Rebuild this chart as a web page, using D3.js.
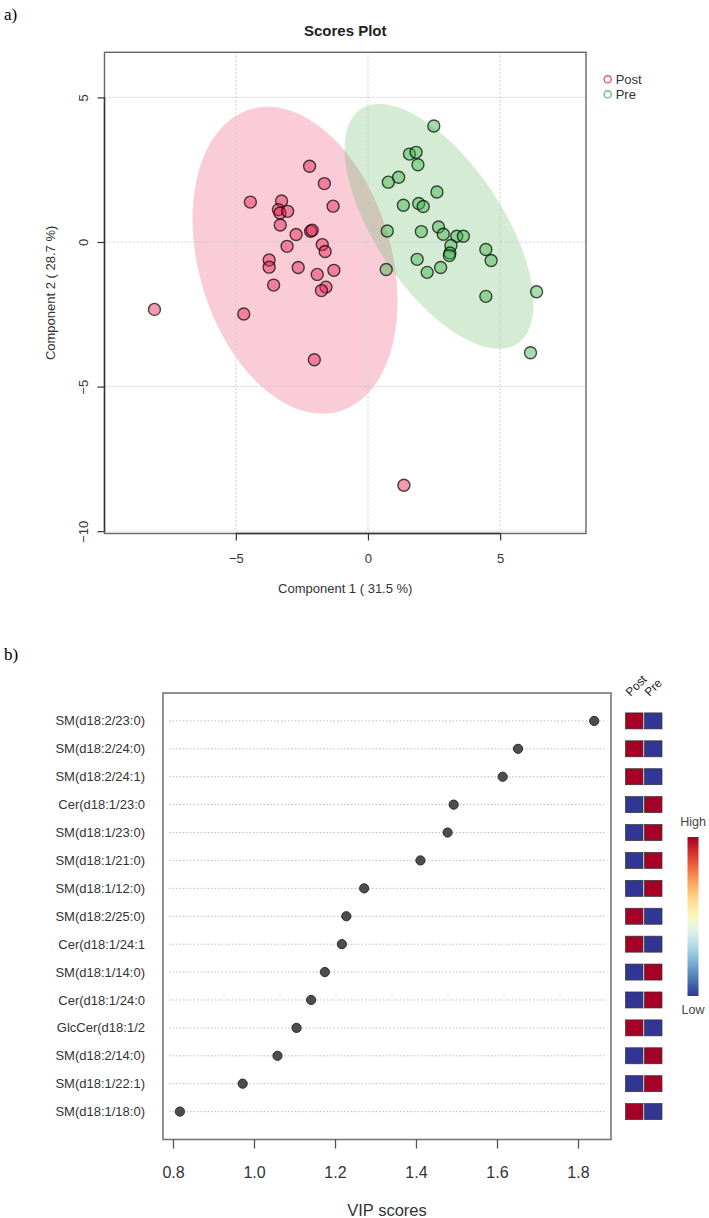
<!DOCTYPE html>
<html>
<head>
<meta charset="utf-8">
<script src="https://cdnjs.cloudflare.com/ajax/libs/d3/7.8.5/d3.min.js"></script>
<style>
  body { margin: 0; background: #fff; }
  svg text { font-family: "Liberation Sans", Arial, sans-serif; }
</style>
</head>
<body>
<svg id="chart" width="709" height="1218"></svg>
<script>
// ---- a) PLS-DA scores, [component 1, component 2]
const postScores = [
  [-2.21, 2.62], [-1.65, 2.02], [-4.45, 1.38], [-3.27, 1.42], [-3.39, 1.12],
  [-3.33, 1.00], [-3.04, 1.06], [-1.32, 1.24], [-3.32, 0.59], [-2.72, 0.26],
  [-2.17, 0.37], [-2.11, 0.41], [-3.06, -0.15], [-1.73, -0.09], [-1.62, -0.33],
  [-3.74, -0.62], [-3.74, -0.87], [-2.64, -0.88], [-1.29, -0.98], [-1.92, -1.12],
  [-3.57, -1.49], [-1.59, -1.56], [-1.76, -1.68], [-8.08, -2.33], [-4.70, -2.49],
  [-2.03, -4.07], [1.36, -8.41]
];
const preScores = [
  [2.49, 4.01], [1.57, 3.04], [1.82, 3.10], [1.89, 2.67], [0.77, 2.07],
  [1.16, 2.24], [2.61, 1.73], [1.34, 1.27], [1.92, 1.33], [2.09, 1.23],
  [0.73, 0.38], [2.02, 0.36], [2.67, 0.52], [2.85, 0.27], [3.36, 0.20],
  [3.61, 0.20], [3.14, -0.12], [3.10, -0.38], [3.08, -0.47], [4.46, -0.26],
  [4.66, -0.64], [1.86, -0.60], [2.75, -0.88], [2.24, -1.05], [0.69, -0.95],
  [4.46, -1.88], [6.38, -1.72], [6.15, -3.83]
];
// 95% regions: centre, then the two half-axis vectors (data units)
const postEllipse = [[-2.76, -0.63], [1.69, -5.22], [3.49, 0.95]];
const preEllipse = [[2.69, 0.54], [2.97, -4.05], [1.99, 1.23]];
const groups = ["Post", "Pre"];
const scoreXTicks = [-5, 0, 5];
const scoreYTicks = [5, 0, -5, -10];

// ---- b) VIP scores
const features = ["SM(d18:2/23:0)", "SM(d18:2/24:0)", "SM(d18:2/24:1)", "Cer(d18:1/23:0",
  "SM(d18:1/23:0)", "SM(d18:1/21:0)", "SM(d18:1/12:0)", "SM(d18:2/25:0)", "Cer(d18:1/24:1",
  "SM(d18:1/14:0)", "Cer(d18:1/24:0", "GlcCer(d18:1/2", "SM(d18:2/14:0)", "SM(d18:1/22:1)",
  "SM(d18:1/18:0)"];
const vipScores = [1.840, 1.652, 1.614, 1.493, 1.478, 1.411, 1.272, 1.228, 1.217,
  1.175, 1.141, 1.105, 1.058, 0.972, 0.817];
// 1 = high in that group, 0 = low
const postLevel = [1, 1, 1, 0, 0, 0, 0, 1, 1, 0, 0, 1, 0, 0, 1];
const preLevel = [0, 0, 0, 1, 1, 1, 1, 0, 0, 1, 1, 0, 1, 1, 0];
const vipTicks = [0.8, 1.0, 1.2, 1.4, 1.6, 1.8];

const svg = d3.select('#chart');
const fills = { Post: 'rgba(230, 30, 80, 0.45)', Pre: 'rgba(60, 180, 75, 0.45)' };
const ellipseFills = { Post: 'rgba(230, 50, 100, 0.25)', Pre: 'rgba(80, 180, 80, 0.25)' };
const legendStroke = { Post: '#e0557e', Pre: '#6cc07a' };

function drawScores() {
    const left = 104.5, right = 586, top = 52.3, bottom = 533.5;
    const x = d3.scaleLinear().domain([-9.97, 8.25]).range([left, right]);
    const y = d3.scaleLinear().domain([6.56, -10.08]).range([top, bottom]);
    const g = svg.append('g');

    svg.append('text').attr('x', 4).attr('y', 20)
        .style('font-family', '"Liberation Serif", "Times New Roman", serif')
        .style('font-size', '17px').text('a)');

    g.append('text').attr('x', (left + right) / 2).attr('y', 36)
        .attr('text-anchor', 'middle').style('font-weight', 'bold').style('font-size', '15px')
        .attr('fill', '#222').text('Scores Plot');

    // ellipses
    const ellipsePath = e => {
        const pts = d3.range(0, 361, 3).map(a => {
            const t = a * Math.PI / 180;
            return [x(e[0][0] + e[1][0] * Math.cos(t) + e[2][0] * Math.sin(t)),
                    y(e[0][1] + e[1][1] * Math.cos(t) + e[2][1] * Math.sin(t))];
        });
        return d3.line()(pts) + 'Z';
    };
    g.append('path').attr('d', ellipsePath(postEllipse)).attr('fill', ellipseFills.Post);
    g.append('path').attr('d', ellipsePath(preEllipse)).attr('fill', ellipseFills.Pre);

    // grid
    g.selectAll('.vgrid').data(scoreXTicks).enter().append('line')
        .attr('x1', d => x(d)).attr('x2', d => x(d)).attr('y1', top).attr('y2', bottom)
        .attr('stroke', '#cccccc').attr('stroke-dasharray', '2,2');
    g.selectAll('.hgrid').data(scoreYTicks).enter().append('line')
        .attr('x1', left).attr('x2', right).attr('y1', d => y(d)).attr('y2', d => y(d))
        .attr('stroke', '#cccccc').attr('stroke-dasharray', '2,2');

    // points
    [['Post', postScores], ['Pre', preScores]].forEach(([grp, data]) => {
        g.selectAll(null).data(data).enter().append('circle')
            .attr('cx', d => x(d[0])).attr('cy', d => y(d[1])).attr('r', 6)
            .attr('fill', fills[grp]).attr('stroke', 'rgba(0,0,0,0.7)').attr('stroke-width', 1.4);
    });

    g.append('rect').attr('x', left).attr('y', top).attr('width', right - left).attr('height', bottom - top)
        .attr('fill', 'none').attr('stroke', '#666').attr('stroke-width', 1.4);

    // axes
    const xAxis = g.append('g').attr('transform', `translate(0,${bottom})`)
        .call(d3.axisBottom(x).tickValues(scoreXTicks).tickSize(7).tickPadding(13));
    xAxis.select('.domain').remove();
    xAxis.append('line').attr('x1', x(-5)).attr('x2', x(5)).attr('stroke', '#333').attr('stroke-width', 1.4);
    xAxis.selectAll('.tick line').attr('stroke', '#333').attr('stroke-width', 1.2);
    xAxis.selectAll('text').style('font-size', '13px').attr('fill', '#333')
        .style('font-family', '"Liberation Sans", Arial, sans-serif');

    const yAxis = g.append('g').attr('transform', `translate(${left},0)`)
        .call(d3.axisLeft(y).tickValues(scoreYTicks).tickSize(7));
    yAxis.select('.domain').remove();
    yAxis.append('line').attr('y1', y(5)).attr('y2', y(-10)).attr('stroke', '#333').attr('stroke-width', 1.4);
    yAxis.selectAll('.tick line').attr('stroke', '#333').attr('stroke-width', 1.2);
    yAxis.selectAll('text').attr('x', 0).attr('y', -17).attr('dy', 0)
        .attr('text-anchor', 'middle').attr('transform', 'rotate(-90)')
        .style('font-size', '13px').attr('fill', '#333')
        .style('font-family', '"Liberation Sans", Arial, sans-serif');

    g.append('text').attr('x', (left + right) / 2).attr('y', 593).attr('text-anchor', 'middle')
        .style('font-size', '13px').attr('fill', '#333').text('Component 1 ( 31.5 %)');
    g.append('text').attr('transform', `translate(55,${(top + bottom) / 2}) rotate(-90)`)
        .attr('text-anchor', 'middle').style('font-size', '13px').attr('fill', '#333')
        .text('Component 2 ( 28.7 %)');

    // legend
    const leg = g.selectAll('.leg').data(groups).enter().append('g')
        .attr('transform', (d, i) => `translate(607.7,${79.3 + i * 15})`);
    leg.append('circle').attr('r', 3.6).attr('fill', 'none').attr('stroke', d => legendStroke[d]).attr('stroke-width', 1.4);
    leg.append('text').attr('x', 8).attr('dy', '0.35em').style('font-size', '13px').attr('fill', '#333').text(d => d);
}

function drawVip() {
    const left = 163, right = 611, top = 693, bottom = 1139.5;
    const x = d3.scaleLinear().domain([0.7753, 1.8815]).range([left, right]);
    const y = d3.scaleLinear().domain([0, features.length + 1]).range([top, bottom]);
    const g = svg.append('g');

    svg.append('text').attr('x', 4).attr('y', 660)
        .style('font-family', '"Liberation Serif", "Times New Roman", serif')
        .style('font-size', '17px').text('b)');

    g.selectAll('.row').data(features).enter().append('line')
        .attr('x1', left + 6).attr('x2', right - 6)
        .attr('y1', (d, i) => y(i + 1)).attr('y2', (d, i) => y(i + 1))
        .attr('stroke', '#bdbdbd').attr('stroke-dasharray', '1.5,2');

    g.selectAll('.lab').data(features).enter().append('text')
        .attr('x', 145).attr('y', (d, i) => y(i + 1)).attr('dy', '0.35em')
        .attr('text-anchor', 'end').style('font-size', '13px').attr('fill', '#333').text(d => d);

    g.selectAll('.dot').data(vipScores).enter().append('circle')
        .attr('cx', d => x(d)).attr('cy', (d, i) => y(i + 1)).attr('r', 4.6)
        .attr('fill', '#4d4d4d').attr('stroke', '#2b2b2b').attr('stroke-width', 1);

    g.append('rect').attr('x', left).attr('y', top).attr('width', right - left).attr('height', bottom - top)
        .attr('fill', 'none').attr('stroke', '#777').attr('stroke-width', 1.6);

    const xAxis = g.append('g').attr('transform', `translate(0,${bottom})`)
        .call(d3.axisBottom(x).tickValues(vipTicks).tickFormat(d3.format('.1f')).tickSize(9).tickPadding(18));
    xAxis.select('.domain').remove();
    xAxis.selectAll('.tick line').attr('stroke', '#555').attr('stroke-width', 1.3);
    xAxis.selectAll('text').style('font-size', '16px').attr('fill', '#333')
        .style('font-family', '"Liberation Sans", Arial, sans-serif');

    g.append('text').attr('x', (left + right) / 2).attr('y', 1216).attr('text-anchor', 'middle')
        .style('font-size', '16.5px').attr('fill', '#333').text('VIP scores');

    // mini heatmap
    const hm = d3.scaleBand().domain(groups).range([625.5, 662]).paddingInner(0.08);
    const colour = v => d3.interpolateRdYlBu(v ? 0 : 1);
    [['Post', postLevel], ['Pre', preLevel]].forEach(([grp, lv]) => {
        g.selectAll(null).data(lv).enter().append('rect')
            .attr('x', hm(grp)).attr('y', (d, i) => y(i + 1) - 8)
            .attr('width', hm.bandwidth()).attr('height', 16)
            .attr('fill', d => colour(d)).attr('stroke', '#333').attr('stroke-width', 0.7);
    });
    g.selectAll('.hdr').data(groups).enter().append('text')
        .attr('transform', d => `translate(${hm(d) + 5},${top + 4}) rotate(-45)`)
        .style('font-size', '12px').attr('fill', '#222').text(d => d);

    // colour key
    const grad = svg.append('defs').append('linearGradient').attr('id', 'key')
        .attr('x1', 0).attr('x2', 0).attr('y1', 0).attr('y2', 1);
    grad.selectAll('stop').data(d3.range(0, 1.01, 0.1)).enter().append('stop')
        .attr('offset', d => d).attr('stop-color', d => d3.interpolateRdYlBu(d));
    g.append('rect').attr('x', 687.5).attr('y', 837).attr('width', 11).attr('height', 159)
        .attr('fill', 'url(#key)');
    g.append('text').attr('x', 693).attr('y', 826).attr('text-anchor', 'middle')
        .style('font-size', '12.5px').attr('fill', '#444').text('High');
    g.append('text').attr('x', 693).attr('y', 1014).attr('text-anchor', 'middle')
        .style('font-size', '12.5px').attr('fill', '#444').text('Low');
}

drawScores();
drawVip();
</script>
</body>
</html>
